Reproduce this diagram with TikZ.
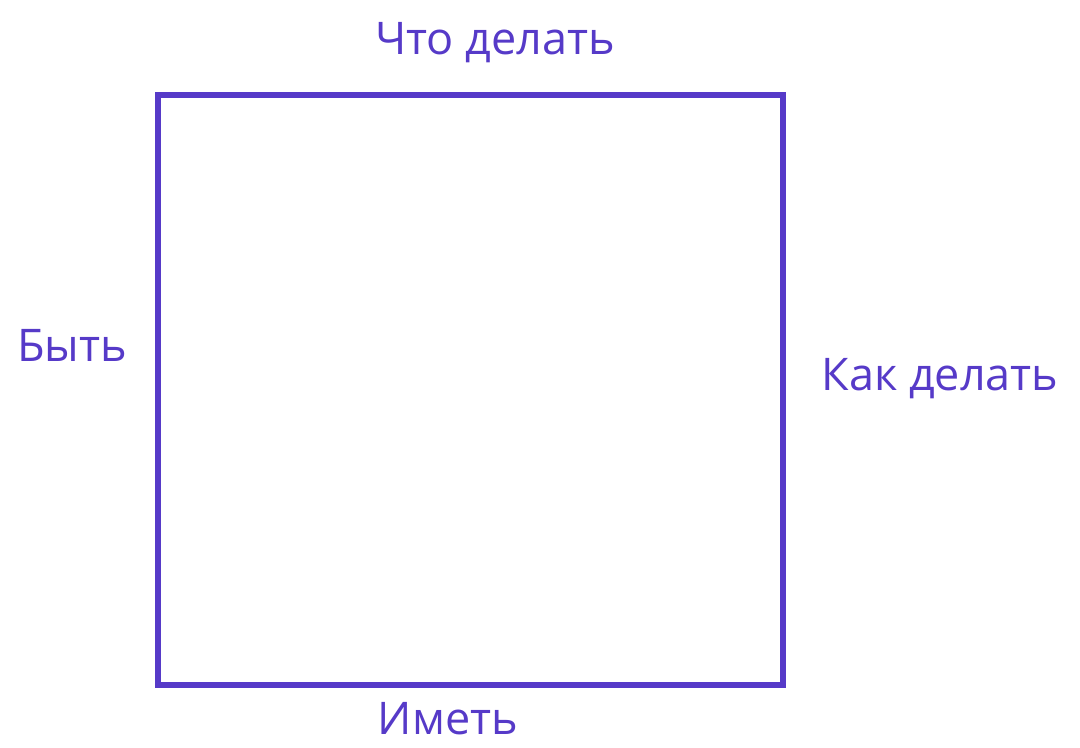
\documentclass[tikz,border=0pt]{standalone}
\usepackage{fontspec}
\usepackage{xcolor}
\usepackage{tikz}
\usetikzlibrary{positioning}
\setmainfont{Open Sans}
\definecolor{inkviolet}{RGB}{86, 58, 200}
\tikzset{
 field/.style={
 rectangle,
 draw=inkviolet,
 line width=4pt,
 minimum width=15.625cm,
 minimum height=14.75cm,
 inner sep=0pt
 },
 sidelabel/.style={
 text=inkviolet,
 inner sep=0pt,
 font=\fontsize{32}{36}\selectfont
 }
}

\begin{document}
\begin{tikzpicture}
	\useasboundingbox (0,0) rectangle (27,18.675);
	\node[field] (box) at (11.7625,8.925) {};
  
	\node[sidelabel] (what) at (12.375,17.6) {Что делать};
	\node[sidelabel] (be) at (1.8,10.05) {Быть};
	\node[sidelabel] (how) at (23.5,9.2) {Как делать};
	\node[sidelabel] (have) at (11.2,0.7) {Иметь};
\end{tikzpicture}
\end{document}
